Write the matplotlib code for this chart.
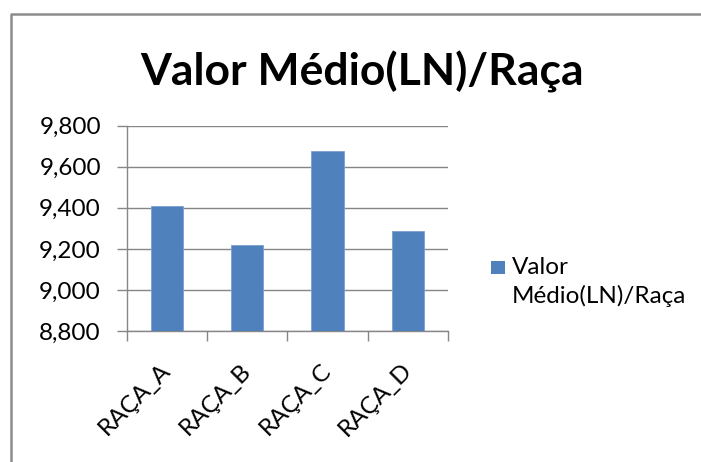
import numpy as np
import matplotlib
matplotlib.use('Agg')
import matplotlib.pyplot as plt
from matplotlib.ticker import FuncFormatter, FixedLocator
from matplotlib.patches import Rectangle
from matplotlib.lines import Line2D
from matplotlib.transforms import ScaledTranslation

plt.rcParams['font.family'] = ['Lato', 'DejaVu Sans']

#%% data
racas = ['RAÇA_A', 'RAÇA_B', 'RAÇA_C', 'RAÇA_D']
valores = [9407, 9219, 9675, 9287]
titulo = 'Valor Médio(LN)/Raça'
legenda = 'Valor\nMédio(LN)/Raça'
y_ticks = [8800, 9000, 9200, 9400, 9600, 9800]

azul = '#4F81BD'
cinza = '#868686'

#%% figure
fig = plt.figure(figsize=(7.01, 4.62), dpi=100)
ax = fig.add_axes([0.1807, 0.2835, 0.4583, 0.4445])

x = np.arange(len(racas))
ax.bar(x, valores, width=0.4, color=azul, edgecolor='#7A9FD0', linewidth=0.6, zorder=3)

ax.set_xlim(-0.5, len(racas) - 0.5)
ax.set_ylim(y_ticks[0], y_ticks[-1])
ax.yaxis.set_major_locator(FixedLocator(y_ticks))
ax.yaxis.set_major_formatter(FuncFormatter(lambda v, p: f'{v:,.0f}'))
ax.grid(axis='y', color=cinza, linewidth=1.0, zorder=0)

ax.xaxis.set_major_locator(FixedLocator(np.arange(-0.5, len(racas), 1.0)))
ax.xaxis.set_major_formatter(FuncFormatter(lambda v, p: ''))
ax.xaxis.set_minor_locator(FixedLocator(x))
ax.set_xticklabels(racas, minor=True, rotation=45, ha='right', rotation_mode='anchor')
ax.tick_params(axis='x', which='minor', length=0, pad=14, labelsize=17.5)
ax.tick_params(axis='x', which='major', length=7, width=1.0, color=cinza, direction='out')
ax.tick_params(axis='y', length=7, width=1.0, color=cinza, pad=11.5, labelsize=17.5)

# nudge the rotated labels down-left like the original
desloc = ScaledTranslation(-7 / 100, -9 / 100, fig.dpi_scale_trans)
for lab in ax.get_xticklabels(minor=True):
    lab.set_transform(lab.get_transform() + desloc)

for s in ['top', 'right']:
    ax.spines[s].set_visible(False)
for s in ['left', 'bottom']:
    ax.spines[s].set_color(cinza)
    ax.spines[s].set_linewidth(1.0)

fig.text(0.516, 0.814, titulo, ha='center', va='baseline', fontsize=32, fontweight='bold')

# legend
fig.patches.append(Rectangle((491 / 701, 1 - 274 / 462), 14 / 701, 13 / 462,
                             transform=fig.transFigure, facecolor=azul, edgecolor='none'))
fig.text(512 / 701, 1 - 257 / 462, legenda, ha='left', va='top', fontsize=17.5, linespacing=1.37)

# outer frame
fig.lines.append(Line2D([11 / 701, 11 / 701, 1.0], [0.0, 1 - 13.5 / 462, 1 - 13.5 / 462],
                        transform=fig.transFigure, color='#8C8C8C', linewidth=1.8))

fig.savefig('out.png', dpi=100, facecolor='white')
